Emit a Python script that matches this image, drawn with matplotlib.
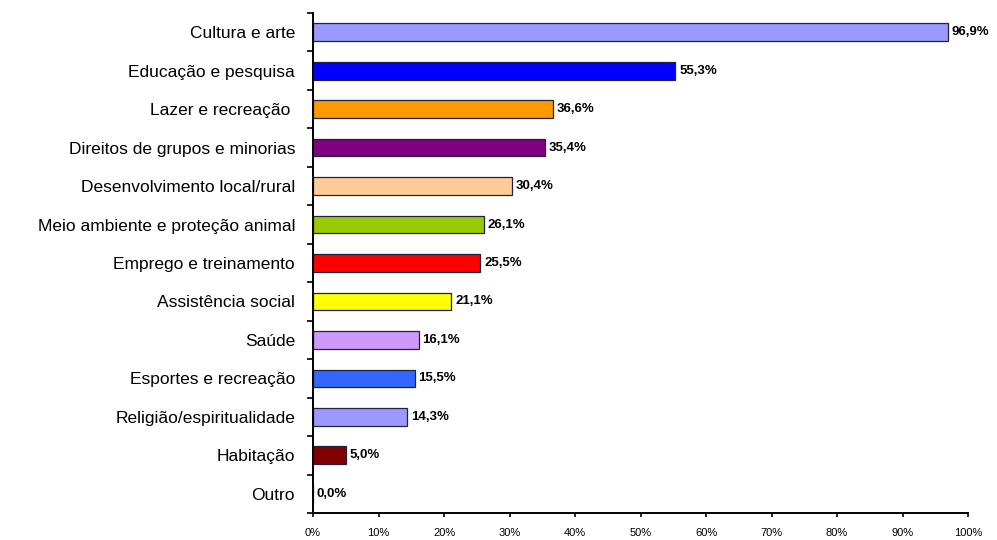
import numpy as np
import matplotlib
matplotlib.use("Agg")
from matplotlib import pyplot as plt
from matplotlib.ticker import FixedLocator, NullFormatter

plt.rcParams['font.family'] = ['Liberation Sans', 'DejaVu Sans']

categories = ["Cultura e arte", "Educação e pesquisa", "Lazer e recreação ",
              "Direitos de grupos e minorias", "Desenvolvimento local/rural",
              "Meio ambiente e proteção animal", "Emprego e treinamento",
              "Assistência social", "Saúde", "Esportes e recreação",
              "Religião/espiritualidade", "Habitação", "Outro"]
values = [96.9, 55.3, 36.6, 35.4, 30.4, 26.1, 25.5, 21.1, 16.1, 15.5, 14.3, 5.0, 0.0]
colors = ["#9999FF", "#0000FF", "#FF9900", "#800080", "#FFCC99", "#99CC00",
          "#FF0000", "#FFFF00", "#CC99FF", "#3366FF", "#9999FF", "#800000", "#FFFFFF"]

fig = plt.figure(figsize=(9.97, 5.4), dpi=100)
ax = fig.add_axes([0.314, 0.05, 0.657, 0.926])

n = len(categories)
y = np.arange(n)
ax.barh(y, values, height=0.46, color=colors, edgecolor="#202040", linewidth=0.9)

for yi, v in zip(y, values):
    ax.text(v + 0.6, yi, f"{v:.1f}%".replace(".", ","), va="center", ha="left",
            fontsize=9.5, fontweight="bold")

ax.set_xlim(0, 100)
ax.set_ylim(n - 0.5, -0.5)
ax.set_xticks(np.arange(0, 101, 10))
ax.set_xticklabels([f"{t}%" for t in range(0, 101, 10)], fontsize=8)

ax.set_yticks(y)
ax.set_yticklabels(categories, fontsize=12.5)
ax.tick_params(axis="y", which="major", length=0, pad=13)
ax.yaxis.set_minor_locator(FixedLocator(np.arange(-0.5, n, 1)))
ax.yaxis.set_minor_formatter(NullFormatter())
ax.tick_params(axis="y", which="minor", length=4, width=1.2, direction="out")
ax.tick_params(axis="x", length=3, width=1.2, direction="out", pad=8)

for s in ["top", "right"]:
    ax.spines[s].set_visible(False)
for s in ["left", "bottom"]:
    ax.spines[s].set_linewidth(1.4)

fig.savefig("out.png", dpi=100)
